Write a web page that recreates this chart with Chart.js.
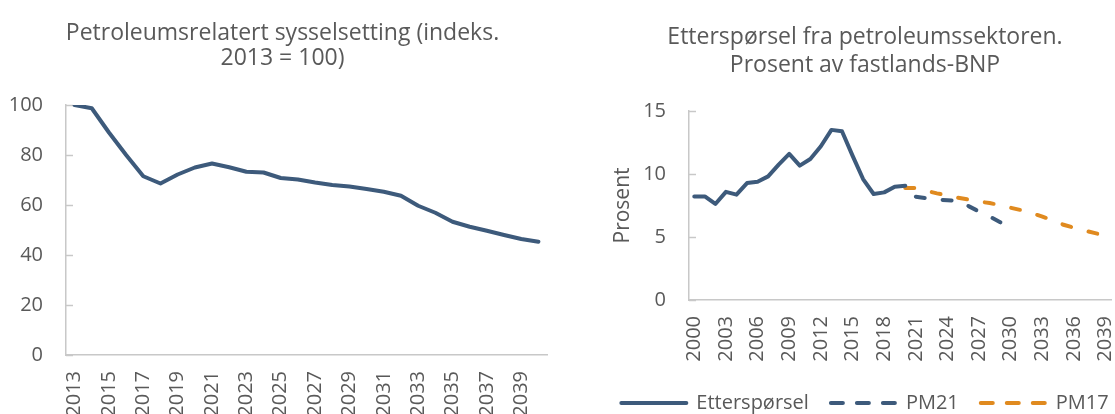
<!DOCTYPE html>
<html lang="no">
<head>
<meta charset="utf-8">
<script src="https://cdn.jsdelivr.net/npm/chart.js@4"></script>
<style>
  html, body { margin: 0; padding: 0; background: #fff; overflow: hidden; }
  canvas { position: absolute; top: 0; }
  #sysselsetting { left: 0; }
  #etterspoersel { left: 575px; }
</style>
</head>
<body>
<canvas id="sysselsetting" width="565" height="430"></canvas>
<canvas id="etterspoersel" width="580" height="430"></canvas>
<script>
// Petroleumsrelatert sysselsetting, indeks 2013 = 100
const sysselYears = ["2013", "2014", "2015", "2016", "2017", "2018", "2019", "2020", "2021", "2022",
  "2023", "2024", "2025", "2026", "2027", "2028", "2029", "2030", "2031", "2032",
  "2033", "2034", "2035", "2036", "2037", "2038", "2039", "2040"]
const sysselIndex = [100, 98.7, 89, 80, 71.5, 68.6, 72.2, 75, 76.6, 75.1,
  73.3, 73, 70.8, 70.2, 69, 68, 67.4, 66.4, 65.3, 63.7,
  59.7, 56.9, 53.3, 51.3, 49.7, 48, 46.4, 45.3]
const sysselTicks = [0, 20, 40, 60, 80, 100]

// Etterspørsel fra petroleumssektoren, prosent av fastlands-BNP
const demandYears = ["2000", "2001", "2002", "2003", "2004", "2005", "2006", "2007", "2008", "2009",
  "2010", "2011", "2012", "2013", "2014", "2015", "2016", "2017", "2018", "2019",
  "2020", "2021", "2022", "2023", "2024", "2025", "2026", "2027", "2028", "2029",
  "2030", "2031", "2032", "2033", "2034", "2035", "2036", "2037", "2038", "2039"]
const demandActual = [8.22, 8.22, 7.62, 8.58, 8.36, 9.28, 9.39, 9.81, 10.74, 11.6,
  10.66, 11.19, 12.2, 13.5, 13.39, 11.46, 9.6, 8.41, 8.54, 8.99,
  9.07, null, null, null, null, null, null, null, null, null,
  null, null, null, null, null, null, null, null, null, null]
const demandPM21 = [null, null, null, null, null, null, null, null, null, null,
  null, null, null, null, null, null, null, null, null, null,
  null, 8.2, 8.07, 7.96, 7.92, 7.87, 7.45, 7.02, 6.62, 6.17,
  5.73, null, null, null, null, null, null, null, null, null]
const demandPM17 = [null, null, null, null, null, null, null, null, null, null,
  null, null, null, null, null, null, null, null, null, null,
  8.89, 8.89, 8.66, 8.46, 8.31, 8.11, 7.97, 7.81, 7.69, 7.53,
  7.32, 7.13, 6.88, 6.62, 6.32, 5.97, 5.73, 5.5, 5.31, 5.09]
const demandTicks = [0, 5, 10, 15]

const BLUE = "#3d5a7b"
const ORANGE = "#e08a1f"
const TEXT = "#595959"
const AXIS = "#c8c8c8"

Chart.defaults.font.family = "'Open Sans', sans-serif"
Chart.defaults.color = TEXT
Chart.defaults.animation = false

// short y tick marks pointing into the plot
const insideTicks = {
  id: "insideTicks",
  beforeDatasetsDraw(chart) {
    const y = chart.scales.y
    const ctx = chart.ctx
    ctx.save()
    ctx.strokeStyle = AXIS
    ctx.lineWidth = 1.5
    y.ticks.forEach((t, i) => {
      const py = Math.round(y.getPixelForTick(i)) + 0.5
      ctx.beginPath()
      ctx.moveTo(y.right, py)
      ctx.lineTo(y.right + 7, py)
      ctx.stroke()
    })
    ctx.restore()
  }
}

function yAxis(ticks, width) {
  return {
    min: ticks[0],
    max: ticks[ticks.length - 1],
    afterBuildTicks: scale => { scale.ticks = ticks.map(v => ({ value: v })) },
    afterFit: scale => { scale.width = width },
    border: { color: AXIS, width: 1.5 },
    grid: { drawOnChartArea: false, drawTicks: false },
    ticks: { padding: 23, font: { size: 20 }, color: TEXT }
  }
}

// empty right-hand strip so the plot stops short of the canvas edge
// while the title stays centred on the whole canvas
function rightGap(width) {
  return {
    type: "linear",
    position: "right",
    afterFit: scale => { scale.width = width },
    grid: { display: false },
    border: { display: false },
    ticks: { display: false }
  }
}

function xAxis(every, height) {
  return {
    offset: true,
    afterFit: scale => {
      scale.height = height
      scale.paddingLeft = 0
      scale.paddingRight = 0
    },
    border: { color: AXIS, width: 1.5 },
    grid: { display: false, drawTicks: false },
    ticks: {
      autoSkip: false,
      minRotation: 90,
      maxRotation: 90,
      padding: 16,
      font: { size: 20 },
      color: TEXT,
      callback(value, index) {
        return index % every === 0 ? this.getLabelForValue(value) : ""
      }
    }
  }
}

new Chart(document.getElementById("sysselsetting"), {
  type: "line",
  data: {
    labels: sysselYears,
    datasets: [{
      data: sysselIndex,
      borderColor: BLUE,
      borderWidth: 4,
      pointRadius: 0,
      tension: 0,
      borderJoinStyle: "round",
      borderCapStyle: "round"
    }]
  },
  options: {
    responsive: false,
    plugins: {
      legend: { display: false },
      tooltip: { enabled: false },
      title: {
        display: true,
        text: ["Petroleumsrelatert sysselsetting (indeks.", "2013 = 100)"],
        color: TEXT,
        font: { size: 23, weight: "normal", lineHeight: 1.087 },
        padding: { top: 21, bottom: 34 }
      }
    },
    scales: {
      x: xAxis(2, 75),
      y: yAxis(sysselTicks, 66),
      gap: rightGap(18)
    }
  },
  plugins: [insideTicks]
})

// legend samples are plain strokes, dashed like the series they stand for
function legendLabels(chart) {
  return chart.data.datasets.map((ds, i) => ({
    text: ds.label,
    datasetIndex: i,
    hidden: false,
    pointStyle: "line",
    fillStyle: ds.borderColor,
    strokeStyle: ds.borderColor,
    fontColor: TEXT,
    lineWidth: 4,
    lineCap: "round",
    lineDash: ds.borderDash ? [12, 14] : []
  }))
}

new Chart(document.getElementById("etterspoersel"), {
  type: "line",
  data: {
    labels: demandYears,
    datasets: [
      {
        label: "Etterspørsel",
        data: demandActual,
        borderColor: BLUE,
        borderWidth: 4,
        pointRadius: 0,
        borderJoinStyle: "round",
        borderCapStyle: "round"
      },
      {
        label: "PM21",
        data: demandPM21,
        borderColor: BLUE,
        borderWidth: 4,
        borderDash: [9, 18],
        pointRadius: 0,
        borderCapStyle: "round"
      },
      {
        label: "PM17",
        data: demandPM17,
        borderColor: ORANGE,
        borderWidth: 4,
        borderDash: [9, 18],
        pointRadius: 0,
        borderCapStyle: "round"
      }
    ]
  },
  options: {
    responsive: false,
    layout: { padding: { bottom: 7 } },
    plugins: {
      tooltip: { enabled: false },
      title: {
        display: true,
        text: ["Etterspørsel fra petroleumssektoren.", "Prosent av fastlands-BNP"],
        color: TEXT,
        font: { size: 23, weight: "normal", lineHeight: 1.217 },
        padding: { top: 23, bottom: 32 }
      },
      legend: {
        position: "bottom",
        align: "center",
        labels: {
          usePointStyle: true,
          pointStyleWidth: 65,
          boxHeight: 20,
          padding: 22,
          color: TEXT,
          font: { size: 20 },
          generateLabels: legendLabels
        }
      }
    },
    scales: {
      x: xAxis(3, 71),
      y: Object.assign(yAxis(demandTicks, 114), {
        title: {
          display: true,
          text: "Prosent",
          color: TEXT,
          font: { size: 21 },
          padding: { top: 35, bottom: 0 }
        }
      }),
      gap: rightGap(44)
    }
  },
  plugins: [insideTicks]
})
</script>
</body>
</html>
